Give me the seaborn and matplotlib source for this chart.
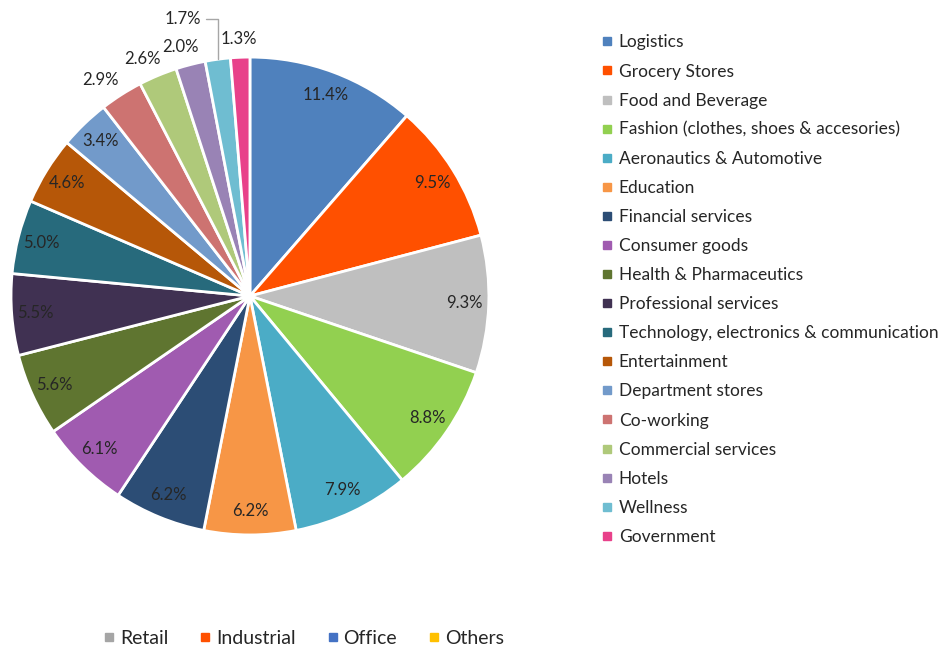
import numpy as np
import matplotlib
matplotlib.use("Agg")
import matplotlib.pyplot as plt
from matplotlib.lines import Line2D
import seaborn as sns

sns.set_theme(style="white")
plt.rcParams["font.family"] = ["Lato", "DejaVu Sans"]

# Sector shares (%) in clockwise order starting at 12 o'clock
sectors = [
    "Logistics", "Grocery Stores", "Food and Beverage",
    "Fashion (clothes, shoes & accesories)", "Aeronautics & Automotive",
    "Education", "Financial services", "Consumer goods",
    "Health & Pharmaceutics", "Professional services",
    "Technology, electronics & communication", "Entertainment",
    "Department stores", "Co-working", "Commercial services",
    "Hotels", "Wellness", "Government",
]
shares = [11.4, 9.5, 9.3, 8.8, 7.9, 6.2, 6.2, 6.1, 5.6, 5.5,
          5.0, 4.6, 3.4, 2.9, 2.6, 2.0, 1.7, 1.3]
sector_colors = [
    "#4F81BD", "#FF5000", "#BFBFBF", "#92D050", "#4BACC6", "#F79646",
    "#2C4D75", "#A05BB0", "#5F7530", "#403152", "#276A7C", "#B65708",
    "#729ACA", "#CD7371", "#AFC97A", "#9983B5", "#6FBDD1", "#E8418A",
]

# Asset classes shown in the lower legend
classes = ["Retail", "Industrial", "Office", "Others"]
class_colors = ["#A5A5A5", "#FF5000", "#4472C4", "#FFC000"]

text_color = "#262626"
label_size = 12

fig = plt.figure(figsize=(9.5, 6.5), dpi=100)
ax = fig.add_axes([0.0116, 0.1769, 0.503, 0.7354])

wedges, _ = ax.pie(
    shares, colors=sector_colors, startangle=90, counterclock=False,
    radius=1.0, wedgeprops=dict(edgecolor="white", linewidth=2),
)
ax.set_xlim(-1, 1)
ax.set_ylim(-1, 1)
ax.set_aspect("equal")
ax.axis("off")

for w, v in zip(wedges, shares):
    mid = np.deg2rad((w.theta1 + w.theta2) / 2)
    label = f"{v:.1f}%"
    if v < 3.0:
        if v == 1.7:
            # thin slice: label lifted away with a leader line
            ax.annotate(
                label, xy=(np.cos(mid), np.sin(mid)),
                xytext=(np.cos(mid) - 0.145, 1.16),
                ha="center", va="center", fontsize=label_size,
                color=text_color,
                arrowprops=dict(arrowstyle="-", color="#A6A6A6", lw=1,
                                shrinkA=1, shrinkB=0,
                                connectionstyle="angle,angleA=0,angleB=90"),
                annotation_clip=False,
            )
        else:
            # outside labels: extra horizontal room for the text width
            ax.text(1.165 * np.cos(mid), 1.075 * np.sin(mid), label,
                    ha="center", va="center", fontsize=label_size,
                    color=text_color)
    else:
        r = 0.9
        ax.text(r * np.cos(mid), r * np.sin(mid), label, ha="center",
                va="center", fontsize=label_size, color=text_color)

sector_handles = [
    Line2D([], [], marker="s", linestyle="none", markersize=6,
           markerfacecolor=c, markeredgecolor=c)
    for c in sector_colors
]
fig.legend(
    sector_handles, sectors, loc="upper left",
    bbox_to_anchor=(0.632, 0.947), frameon=False, fontsize=12.5,
    handlelength=0.8, handletextpad=0.25, labelspacing=0.753,
    labelcolor=text_color, borderaxespad=0, borderpad=0,
)

class_handles = [
    Line2D([], [], marker="s", linestyle="none", markersize=6,
           markerfacecolor=c, markeredgecolor=c)
    for c in class_colors
]
fig.legend(
    class_handles, classes, loc="center left",
    bbox_to_anchor=(0.108, 0.018), frameon=False, fontsize=14,
    ncol=4, handlelength=0.7, handletextpad=0.2, columnspacing=1.55,
    labelcolor=text_color, borderaxespad=0, borderpad=0,
)

fig.savefig("out.png", dpi=100, facecolor="white")
